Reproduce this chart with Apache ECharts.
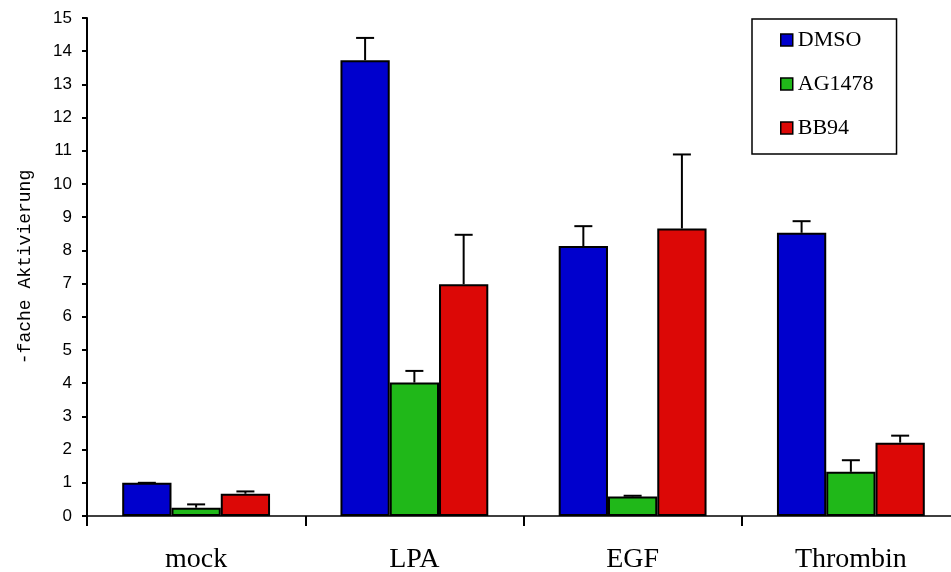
<!DOCTYPE html>
<html>
<head>
<meta charset="utf-8">
<script src="https://cdn.jsdelivr.net/npm/echarts@6/dist/echarts.min.js"></script>
<style>html,body{margin:0;padding:0;background:#fff;}#c{width:951px;height:572px;}</style>
</head>
<body>
<div id="c"></div>
<script>
var categories = ['mock', 'LPA', 'EGF', 'Thrombin'];
var seriesNames = ['DMSO', 'AG1478', 'BB94'];
var dmso = [1.0, 13.73, 8.13, 8.53];
var dmsoErr = [0, 0.67, 0.6, 0.35];
var ag1478 = [0.25, 4.02, 0.59, 1.33];
var ag1478Err = [0.1, 0.35, 0.02, 0.35];
var bb94 = [0.67, 6.98, 8.66, 2.21];
var bb94Err = [0.07, 1.49, 2.23, 0.21];
var yTicks = [0, 15, 1]; // min, max, interval

var colors = ['#0000CD', '#20B819', '#DC0806'];
var values = [dmso, ag1478, bb94];
var errs = [dmsoErr, ag1478Err, bb94Err];
var BAR_FRAC = 0.2258;

var chart = echarts.init(document.getElementById('c'));

var series = [];
seriesNames.forEach(function (name, si) {
  series.push({
    name: name,
    type: 'bar',
    data: values[si],
    barWidth: (BAR_FRAC * 100) + '%',
    barGap: '0%',
    itemStyle: { color: colors[si], borderColor: '#000', borderWidth: 2 },
    z: 2
  });
});
seriesNames.forEach(function (name, si) {
  var d = values[si].map(function (v, i) { return [i, v, v + errs[si][i]]; });
  series.push({
    type: 'custom',
    data: d,
    z: 5,
    silent: true,
    renderItem: function (params, api) {
      var ci = api.value(0);
      var band = api.size([1, 0])[0];
      var off = (si - 1) * band * BAR_FRAC;
      var p0 = api.coord([ci, api.value(1)]);
      var p1 = api.coord([ci, api.value(2)]);
      var x = p0[0] + off;
      var cap = 9;
      return {
        type: 'group',
        children: [
          { type: 'line', shape: { x1: x, y1: p0[1], x2: x, y2: p1[1] }, style: { stroke: '#000', lineWidth: 2 } },
          { type: 'line', shape: { x1: x - cap, y1: p1[1], x2: x + cap, y2: p1[1] }, style: { stroke: '#000', lineWidth: 2 } }
        ]
      };
    }
  });
});

chart.setOption({
  animation: false,
  backgroundColor: '#fff',
  grid: { left: 87, right: -9, top: 18, bottom: 56, containLabel: false, outerBoundsMode: 'none' },
  legend: {
    data: seriesNames.map(function (n) { return { name: n, icon: 'rect' }; }),
    orient: 'vertical',
    left: 752,
    top: 19,
    itemWidth: 12,
    itemHeight: 12,
    itemGap: 22,
    padding: [10, 23, 15, 28],
    borderColor: '#000',
    borderWidth: 1.5,
    selectedMode: false,
    itemStyle: { borderColor: '#000', borderWidth: 1.5 },
    textStyle: { fontFamily: 'Liberation Serif', fontSize: 22, color: '#000', lineHeight: 22 }
  },
  xAxis: {
    type: 'category',
    data: categories,
    boundaryGap: true,
    axisLine: { lineStyle: { color: '#000', width: 1.5 } },
    axisTick: { show: true, length: 10, lineStyle: { color: '#000', width: 2 } },
    axisLabel: { margin: 30, color: '#000', fontFamily: 'Liberation Serif', fontSize: 28 }
  },
  yAxis: {
    type: 'value',
    min: yTicks[0],
    max: yTicks[1],
    interval: yTicks[2],
    name: '-fache Aktivierung',
    nameLocation: 'middle',
    nameGap: 53,
    nameTextStyle: { fontFamily: 'Liberation Mono', fontSize: 18, color: '#000' },
    splitLine: { show: false },
    axisLine: { show: true, lineStyle: { color: '#000', width: 2 } },
    axisTick: { show: true, length: 5, lineStyle: { color: '#000', width: 2 } },
    axisLabel: { margin: 15, color: '#000', fontFamily: 'Liberation Sans', fontSize: 17 }
  },
  series: series
});
</script>
</body>
</html>
